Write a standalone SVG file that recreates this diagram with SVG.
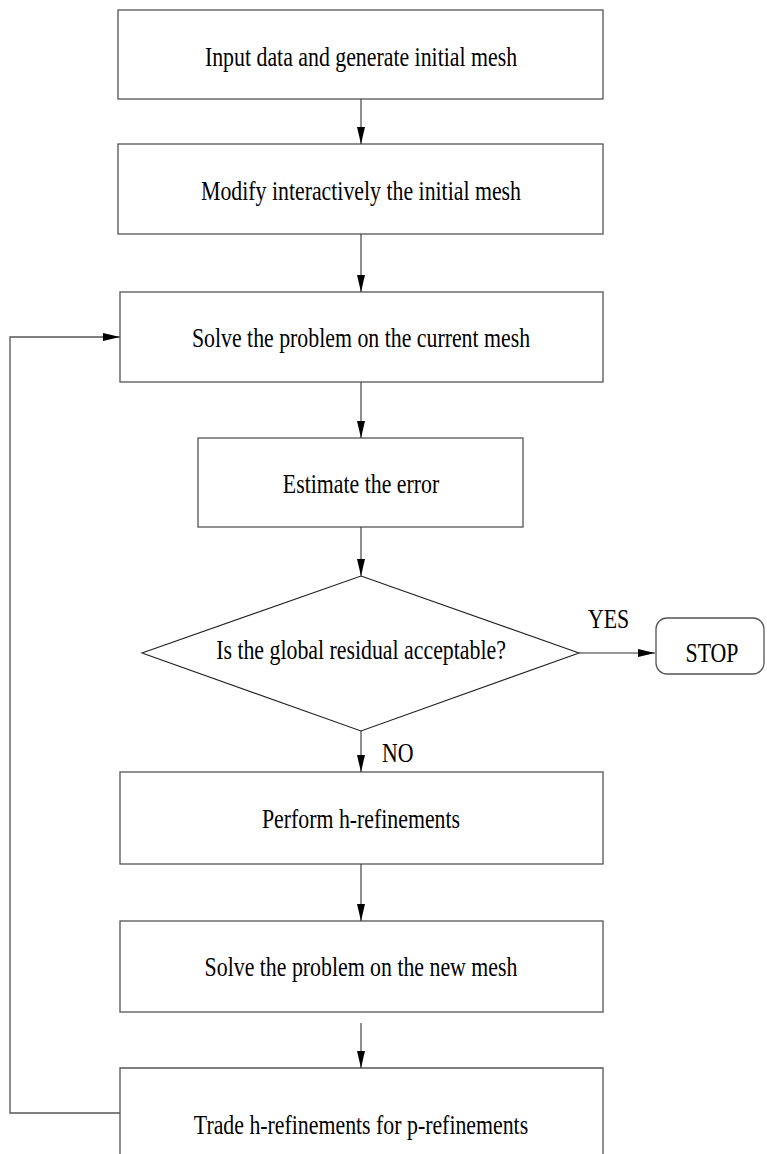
<svg xmlns="http://www.w3.org/2000/svg" width="767" height="1154" viewBox="0 0 767 1154">
<style>
.box{fill:#fff;stroke:#555;stroke-width:1.3}
.dia{fill:#fff;stroke:#222;stroke-width:1.1}
.ln{fill:none;stroke:#333;stroke-width:1.1}
.fb{fill:none;stroke:#555;stroke-width:1.3}
.t{font-family:"Liberation Serif","Times New Roman",serif;font-size:28px;fill:#000;text-anchor:middle}
.lbl{font-family:"Liberation Serif","Times New Roman",serif;font-size:28px;fill:#000}
</style>
<defs>
<marker id="ah" viewBox="0 0 17 8" refX="17" refY="4" markerWidth="17" markerHeight="8" markerUnits="userSpaceOnUse" orient="auto">
<path d="M0,0 L17,4 L0,8 Z" fill="#000"/>
</marker>
</defs>
<rect width="767" height="1154" fill="#fff"/>
<g id="n1"><rect class="box" x="118" y="10" width="485" height="89"/><text class="t" transform="translate(361,66) scale(0.78,1)">Input data and generate initial mesh</text></g>
<g id="n2"><rect class="box" x="118" y="144" width="485" height="90"/><text class="t" transform="translate(361,200) scale(0.78,1)">Modify interactively the initial mesh</text></g>
<g id="n3"><rect class="box" x="120" y="292" width="483" height="90"/><text class="t" transform="translate(361,347) scale(0.78,1)">Solve the problem on the current mesh</text></g>
<g id="n4"><rect class="box" x="198" y="438" width="325" height="89"/><text class="t" transform="translate(361,493) scale(0.78,1)">Estimate the error</text></g>
<g id="n5"><polygon class="dia" points="361,576 579,653 361,731 142,653"/><text class="t" transform="translate(361,659) scale(0.78,1)">Is the global residual acceptable?</text></g>
<g id="n6"><rect class="box" x="656" y="618" width="108" height="56" rx="11" ry="11"/><text class="t" transform="translate(712,662) scale(0.78,1)">STOP</text></g>
<g id="n7"><rect class="box" x="120" y="772" width="483" height="92"/><text class="t" transform="translate(361,828) scale(0.78,1)">Perform h-refinements</text></g>
<g id="n8"><rect class="box" x="120" y="921" width="483" height="91"/><text class="t" transform="translate(361,976) scale(0.78,1)">Solve the problem on the new mesh</text></g>
<g id="n9"><polyline class="box" points="120,1160 120,1068 603,1068 603,1160"/><text class="t" transform="translate(361,1134) scale(0.78,1)">Trade h-refinements for p-refinements</text></g>
<g id="connectors">
<line class="ln" x1="361" y1="99" x2="361" y2="144" marker-end="url(#ah)"/>
<line class="ln" x1="361" y1="234" x2="361" y2="292" marker-end="url(#ah)"/>
<line class="ln" x1="361" y1="382" x2="361" y2="438" marker-end="url(#ah)"/>
<line class="ln" x1="361" y1="527" x2="361" y2="576" marker-end="url(#ah)"/>
<line class="ln" x1="579" y1="653" x2="655" y2="653" marker-end="url(#ah)"/>
<line class="ln" x1="361" y1="731" x2="361" y2="772" marker-end="url(#ah)"/>
<line class="ln" x1="361" y1="864" x2="361" y2="921" marker-end="url(#ah)"/>
<line class="ln" x1="361" y1="1023" x2="361" y2="1068" marker-end="url(#ah)"/>
<polyline class="fb" points="120,1113 10,1113 10,337 120,337" marker-end="url(#ah)"/>
<text class="lbl" transform="translate(588,628) scale(0.78,1)">YES</text>
<text class="lbl" transform="translate(382,762) scale(0.78,1)">NO</text>
</g>
</svg>
